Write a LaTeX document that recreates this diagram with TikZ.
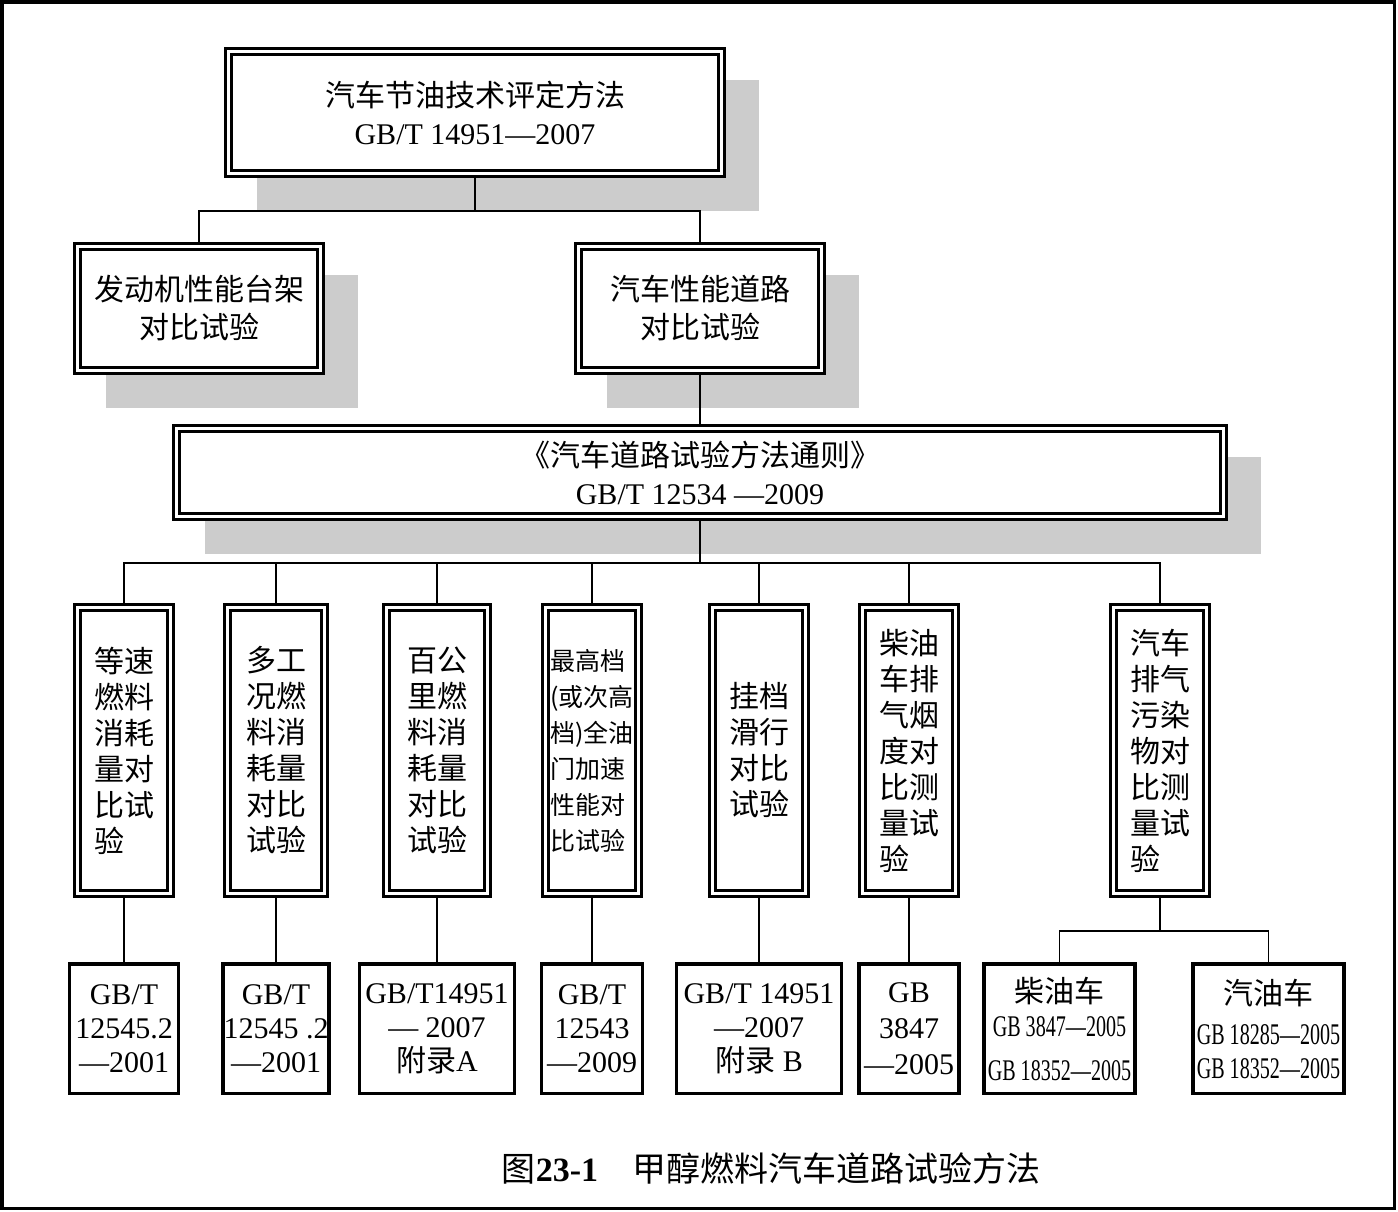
\documentclass[tikz,border=0pt]{standalone}
\usepackage{fontspec}
\setmainfont{Liberation Serif}
\newfontfamily\cjkfont{Noto Sans CJK SC}
\newfontfamily\narrowfont{Liberation Serif}[FakeStretch=0.67]
\newcommand{\zh}[1]{{\cjkfont #1}}
\usetikzlibrary{backgrounds,calc}

\begin{document}
\begin{tikzpicture}[x=1pt, y=-1pt,
		dbl/.style={draw, fill=white, line width=3pt, double, double distance=3pt, inner sep=0pt, outer sep=4.5pt, align=center, font=\fontsize{30}{38}\selectfont},
		tall/.style={dbl, minimum width=93pt, minimum height=286pt, align=left, font=\fontsize{30}{36}\selectfont\cjkfont},
		std/.style={draw, fill=white, line width=3.5pt, minimum height=129.5pt, inner sep=0pt, outer sep=1.75pt, align=center, font=\fontsize{30}{34}\selectfont},
		link/.style={line width=1.3pt},
		shadowfill/.style={fill=black!20}]
		\useasboundingbox (0,0) rectangle (1398,1211);
		% outer frame
		\draw[line width=3.5pt] (1.75,1.75) rectangle (1394.5,1208.5);
		% upper levels
		\node[dbl, minimum width=493pt, minimum height=122pt] (top) at (475,112.5) {\zh{汽车节油技术评定方法}\\GB/T 14951—2007};
		\node[dbl, minimum width=243pt, minimum height=124pt] (eng) at (199,308.5) {\zh{发动机性能台架}\\\zh{对比试验}};
		\node[dbl, minimum width=243pt, minimum height=124pt] (road) at (700,308.5) {\zh{汽车性能道路}\\\zh{对比试验}};
		\node[dbl, minimum width=1047pt, minimum height=88pt] (gen) at (700,472.5) {\zh{《汽车道路试验方法通则》}\\GB/T 12534 —2009};
		% shadows behind the upper boxes
		\begin{scope}[on background layer]
			\foreach \n in {top,eng,road,gen}
				\fill[shadowfill] ($(\n.north west)+(33,33)$) rectangle ($(\n.south east)+(33,33)$);
		\end{scope}
		% test methods
		\node[tall] (t1) at (124,750.5) {等速\\燃料\\消耗\\量对\\比试\\验};
		\node[tall, minimum width=97pt] (t2) at (276,750.5) {多工\\况燃\\料消\\耗量\\对比\\试验};
		\node[tall, minimum width=101pt] (t3) at (437,750.5) {百公\\里燃\\料消\\耗量\\对比\\试验};
		\node[tall, font=\fontsize{25}{36}\selectfont\cjkfont] (t4) at (592,750.5) {最高档\\(或次高\\档)全油\\门加速\\性能对\\比试验};
		\node[tall] (t5) at (759,750.5) {挂档\\滑行\\对比\\试验};
		\node[tall] (t6) at (909,750.5) {柴油\\车排\\气烟\\度对\\比测\\量试\\验};
		\node[tall] (t7) at (1160,750.5) {汽车\\排气\\污染\\物对\\比测\\量试\\验};
		% standards
		\node[std, minimum width=109pt] (b1) at (124,1028.5) {GB/T\\12545.2\\—2001};
		\node[std, minimum width=106pt] (b2) at (276,1028.5) {GB/T\\12545 .2\\—2001};
		\node[std, minimum width=155pt] (b3) at (437,1028.5) {GB/T14951\\— 2007\\\zh{附录}A};
		\node[std, minimum width=101pt] (b4) at (592,1028.5) {GB/T\\12543\\—2009};
		\node[std, minimum width=165pt] (b5) at (759,1028.5) {GB/T 14951\\—2007\\\zh{附录} B};
		\node[std, minimum width=100pt, font=\fontsize{30}{36}\selectfont] (b6) at (909,1028.5) {GB\\3847\\—2005};
		\node[std, minimum width=151pt] (b7) at (1059.5,1028.5) {\zh{柴油车}\\{\narrowfont GB 3847—2005}\\[10pt]{\narrowfont GB 18352—2005}};
		\node[std, minimum width=151pt] (b8) at (1268.5,1028.5) {\zh{汽油车}\\[6pt]{\narrowfont GB 18285—2005}\\{\narrowfont GB 18352—2005}};
		% connectors
		\draw[link] (top.south) -- ++(0,33) -| (eng.north);
		\draw[link] (top.south) -- ++(0,33) -| (road.north);
		\draw[link] (road.south) -- (gen.north);
		\foreach \t in {t1,t2,t3,t4,t5,t6,t7}
			\draw[link] (gen.south) -- ++(0,42) -| (\t.north);
		\foreach \i in {1,...,6}
			\draw[link] (t\i.south) -- (b\i.north);
		\draw[link] (t7.south) -- ++(0,33) -| (b7.north);
		\draw[link] (t7.south) -- ++(0,33) -| (b8.north);
		% caption
		\node[font=\fontsize{34}{40}\selectfont] (cap) at (771,1168) {\zh{图}\textbf{23-1}\hspace{34pt}\zh{甲醇燃料汽车道路试验方法}};
	\end{tikzpicture}
\end{document}
